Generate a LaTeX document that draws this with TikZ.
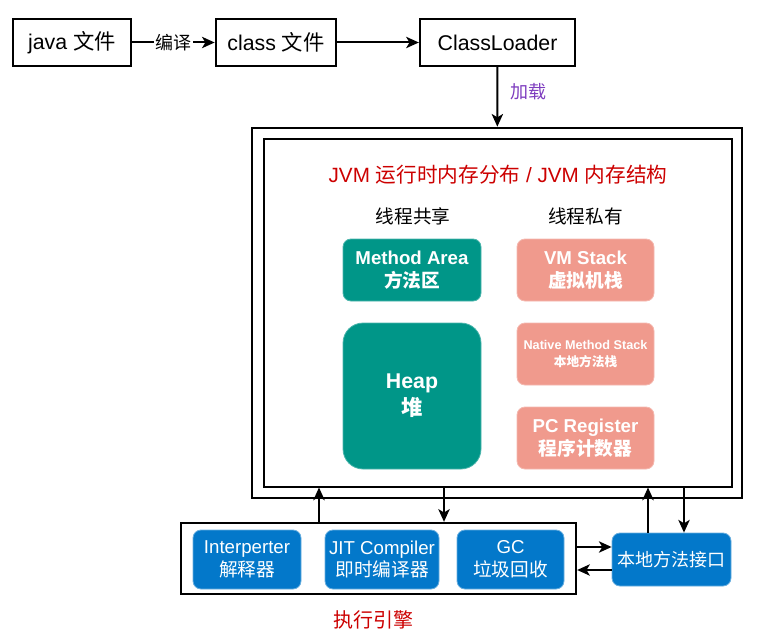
\documentclass[tikz,border=0pt]{standalone}
\usepackage{fontspec}
\usetikzlibrary{arrows.meta}
\setmainfont{Liberation Sans}
\newfontfamily\cjk{Noto Sans CJK SC}
\newcommand\zh[1]{{\cjk #1}}
\definecolor{sharedgreen}{RGB}{0,150,136}
\definecolor{privsalmon}{RGB}{240,154,141}
\definecolor{engineblue}{RGB}{3,120,202}
\definecolor{titlered}{RGB}{204,0,0}
\definecolor{loadpurple}{RGB}{126,61,191}
\tikzset{
  filebox/.style = {draw, line width = 1.5pt, minimum height = 35.25pt, inner sep = 0pt, font = \fontsize{16}{19}\selectfont},
  frame/.style = {draw, line width = 1.5pt, inner sep = 0pt},
  sharedbox/.style = {fill = sharedgreen, draw = sharedgreen!70!white, line width = .6pt, rounded corners = 6pt, text = white, align = center, inner sep = 0pt, minimum width = 103.5pt, font = \fontsize{14}{17}\selectfont\bfseries},
  privbox/.style = {sharedbox, fill = privsalmon, draw = privsalmon!70!white, minimum width = 102.75pt, minimum height = 46.5pt},
  enginebox/.style = {sharedbox, fill = engineblue, draw = engineblue!60!white, minimum height = 44.25pt, font = \fontsize{14}{17}\selectfont},
  flow/.style = {-{Stealth[length = 9.5pt, width = 8.5pt, inset = 2.5pt]}, line width = 1.5pt},
  caption/.style = {font = \fontsize{14}{17}\selectfont\cjk}
}
\begin{document}
\begin{tikzpicture}[x = 0.75pt, y = -0.75pt]
  \useasboundingbox (0, 0) rectangle (775, 642);
  \node[filebox, minimum width = 89pt] (java) at (72, 42.5) {java \zh{文件}};
  \node[filebox, minimum width = 90.5pt] (class) at (276, 42.5) {class \zh{文件}};
  \node[filebox, minimum width = 116.5pt] (loader) at (497.5, 42.5) {ClassLoader};
  \node[frame, minimum width = 368pt, minimum height = 278pt] (jvmouter) at (497, 313) {};
  \node[frame, minimum width = 351pt, minimum height = 261pt] (jvminner) at (497.5, 312.5) {};
  \node[font = \fontsize{15.5}{18}\selectfont, text = titlered] (title) at (498, 175) {JVM \zh{运行时内存分布} / JVM \zh{内存结构}};
  \node[caption] (shared) at (413, 216) {线程共享};
  \node[caption] (private) at (585.5, 216) {线程私有};
  \node[sharedbox, minimum height = 46.5pt] (method) at (412, 270) {Method Area\\\zh{方法区}};
  \node[sharedbox, minimum height = 109.5pt, rounded corners = 15pt, font = \fontsize{16}{20}\selectfont\bfseries] (heap) at (412, 396) {Heap\\\zh{堆}};
  \node[privbox] (vmstack) at (585.5, 270) {VM Stack\\\zh{虚拟机栈}};
  \node[privbox, font = \fontsize{9.5}{12.5}\selectfont\bfseries] (native) at (585.5, 354) {Native Method Stack\\\zh{本地方法栈}};
  \node[privbox] (pcreg) at (585.5, 438) {PC Register\\\zh{程序计数器}};
  \node[frame, minimum width = 296.5pt, minimum height = 53.5pt] (engine) at (378.5, 558.5) {};
  \node[enginebox, minimum width = 81pt] (interp) at (247, 559.5) {Interperter\\\zh{解释器}};
  \node[enginebox, minimum width = 85.5pt] (jit) at (382, 559.5) {JIT Compiler\\\zh{即时编译器}};
  \node[enginebox, minimum width = 80.25pt] (gc) at (510.5, 559.5) {GC\\\zh{垃圾回收}};
  \node[enginebox, minimum width = 89.25pt, minimum height = 39.75pt, font = \fontsize{13.5}{16}\selectfont\cjk] (jni) at (671.5, 559.5) {本地方法接口};
  \node[font = \fontsize{15}{18}\selectfont\cjk, text = titlered] (enginename) at (373, 620) {执行引擎};
  \coordinate (upA) at (319, 0);
  \coordinate (downA) at (444, 0);
  \coordinate (upB) at (648, 0);
  \coordinate (downB) at (684, 0);
  \coordinate (toright) at (0, 547);
  \coordinate (toleft) at (0, 570);
  \draw[flow] (java) -- (class) node[midway, fill = white, inner sep = 1pt, font = \fontsize{13.5}{16}\selectfont\cjk]{编译};
  \draw[flow] (class) -- (loader);
  \draw[flow] (loader) -- (jvmouter) node[pos = .42, right = 6pt, text = loadpurple, font = \fontsize{13.5}{16}\selectfont\cjk]{加载};
  \draw[flow] (engine.north -| upA) -- (jvminner.south -| upA);
  \draw[flow] (jvminner.south -| downA) -- (engine.north -| downA);
  \draw[flow] (jni.north -| upB) -- (jvminner.south -| upB);
  \draw[flow] (jvminner.south -| downB) -- (jni.north -| downB);
  \draw[flow] (engine.east |- toright) -- (jni.west |- toright);
  \draw[flow] (jni.west |- toleft) -- (engine.east |- toleft);
\end{tikzpicture}
\end{document}
